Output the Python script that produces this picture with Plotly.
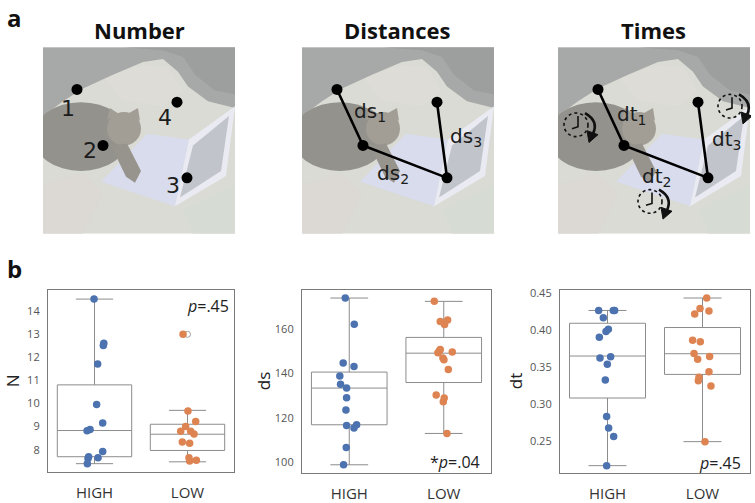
import plotly.graph_objects as go

W, H = 755, 503

# ---------------- data ----------------
# fixation sequence on the example image (image pixel coordinates)
fix_x = [34, 60, 144, 134]
fix_y = [43, 100, 133, 56]
fix_labels = ["1", "2", "3", "4"]
ds_labels = ["ds<sub>1</sub>", "ds<sub>2</sub>", "ds<sub>3</sub>"]
dt_labels = ["dt<sub>1</sub>", "dt<sub>2</sub>", "dt<sub>3</sub>"]
panel_titles = ["Number", "Distances", "Times"]

groups = ["HIGH", "LOW"]

# N (number of fixations)
n_high = [14.5, 12.6, 12.5, 11.7, 9.95, 9.15, 8.87, 8.82, 7.93, 7.7, 7.66, 7.62, 7.4]
n_high_jit = [-0.005, 0.10, 0.095, 0.034, 0.023, 0.088, -0.048, -0.08, 0.088, -0.063, 0.038, -0.07, -0.077]
n_low = [12.98, 9.67, 9.22, 9.0, 8.8, 8.8, 8.68, 8.34, 8.28, 7.66, 7.55, 7.52]
n_low_jit = [-0.048, 0.005, 0.088, -0.02, -0.073, 0.034, 0.07, -0.056, 0.023, 0.016, 0.095, 0.023]
n_q1 = [7.70, 7.97]
n_med = [8.83, 8.67]
n_q3 = [10.8, 9.1]
n_lo = [7.4, 7.48]
n_hi = [14.5, 9.7]
n_fliers_low = [12.98]

# ds (saccade distances)
ds_high = [174.0, 162.2, 144.8, 143.2, 138.9, 135.2, 133.5, 129.2, 123.6, 116.7, 117.0, 115.5, 106.8, 99.0]
ds_high_jit = [-0.042, 0.053, -0.064, 0.05, -0.10, -0.092, -0.028, -0.028, -0.035, -0.028, 0.078, 0.05, -0.032, -0.06]
ds_low = [172.5, 163.4, 164.1, 162.1, 150.9, 150.3, 149.4, 149.7, 147.0, 146.3, 141.9, 130.4, 129.0, 127.4, 113.1]
ds_low_jit = [-0.10, -0.037, 0.041, 0.009, -0.037, -0.045, -0.062, 0.09, -0.009, 0.002, 0.048, -0.08, 0.005, -0.005, 0.034]
ds_q1 = [117.0, 136.0]
ds_med = [133.5, 149.2]
ds_q3 = [140.7, 156.3]
ds_lo = [99.0, 113.1]
ds_hi = [174.0, 172.5]

# dt (fixation durations)
dt_high = [0.4264, 0.4264, 0.4264, 0.4167, 0.4011, 0.398, 0.39, 0.362, 0.3636, 0.3536, 0.3322, 0.2829, 0.2673, 0.2558, 0.2162]
dt_high_jit = [-0.093, 0.061, 0.075, -0.044, 0.009, -0.016, -0.086, -0.079, 0.033, -0.002, -0.023, -0.009, 0.012, 0.065, -0.009]
dt_low = [0.4433, 0.4291, 0.4256, 0.4216, 0.386, 0.3842, 0.3682, 0.3602, 0.3642, 0.3433, 0.3358, 0.3313, 0.3242, 0.2487]
dt_low_jit = [0.044, -0.026, 0.068, -0.082, -0.104, -0.023, -0.089, -0.051, 0.075, 0.068, -0.037, -0.044, 0.089, 0.026]
dt_q1 = [0.3078, 0.3398]
dt_med = [0.3647, 0.3678]
dt_q3 = [0.4091, 0.4033]
dt_lo = [0.2162, 0.2487]
dt_hi = [0.4264, 0.4433]

p_texts = ["<i>p</i>=.45", "*<i>p</i>=.04", "<i>p</i>=.45"]

# ---------------- helpers ----------------
def dx_(a, b):
    return [a / W, b / W]

def dy_(a, b):
    return [1 - b / H, 1 - a / H]

BLUE = "#4c72b0"
ORANGE = "#dd8452"
BOXC = "#8c8c8c"
FRAME = "#7a7a7a"
FONT = "Open Sans"

fig = go.Figure()
layout = dict(
    width=W, height=H, margin=dict(l=0, r=0, t=0, b=0),
    paper_bgcolor="white", plot_bgcolor="rgba(0,0,0,0)",
    showlegend=False, font=dict(family=FONT, color="#222"),
)

# ---------------- box plot panels ----------------
box_panels = [
    dict(ax="", dom=(48, 234), ydom=(290, 476), rng=[7.02, 14.9], ticks=[8, 9, 10, 11, 12, 13, 14], fmt="d",
         high=n_high, hj=n_high_jit, low=n_low, lj=n_low_jit, q1=n_q1, med=n_med, q3=n_q3, lo=n_lo, hi=n_hi,
         title="N", tx=12),
    dict(ax="2", dom=(302, 491), ydom=(290, 477), rng=[95.1, 177.7], ticks=[100, 120, 140, 160], fmt="d",
         high=ds_high, hj=ds_high_jit, low=ds_low, lj=ds_low_jit, q1=ds_q1, med=ds_med, q3=ds_q3, lo=ds_lo, hi=ds_hi,
         title="ds", tx=263),
    dict(ax="3", dom=(560, 750), ydom=(290, 477), rng=[0.2056, 0.4544], ticks=[0.25, 0.30, 0.35, 0.40, 0.45], fmt=".2f",
         high=dt_high, hj=dt_high_jit, low=dt_low, lj=dt_low_jit, q1=dt_q1, med=dt_med, q3=dt_q3, lo=dt_lo, hi=dt_hi,
         title="dt", tx=515),
]

annotations = []
shapes = []

for i, p in enumerate(box_panels):
    xa, ya = "x" + p["ax"], "y" + p["ax"]
    fig.add_trace(go.Box(
        x=[0, 1], q1=p["q1"], median=p["med"], q3=p["q3"], lowerfence=p["lo"], upperfence=p["hi"],
        orientation="v", width=0.8, whiskerwidth=0.5, fillcolor="white",
        line=dict(color=BOXC, width=1), boxpoints=False, xaxis=xa, yaxis=ya, hoverinfo="skip",
    ))
    if i == 0:
        fig.add_trace(go.Scatter(
            x=[1] * len(n_fliers_low), y=n_fliers_low, mode="markers",
            marker=dict(size=6, color="white", line=dict(color=BOXC, width=0.8)),
            xaxis=xa, yaxis=ya))
    fig.add_trace(go.Scatter(
        x=[0 + j for j in p["hj"]], y=p["high"], mode="markers",
        marker=dict(size=7.5, color=BLUE), xaxis=xa, yaxis=ya))
    fig.add_trace(go.Scatter(
        x=[1 + j for j in p["lj"]], y=p["low"], mode="markers",
        marker=dict(size=7.5, color=ORANGE), xaxis=xa, yaxis=ya))

    layout["xaxis" + p["ax"]] = dict(
        domain=dx_(*p["dom"]), anchor=ya, range=[-0.5, 1.5],
        tickvals=[0, 1], ticktext=groups, showgrid=False, zeroline=False,
        showline=True, mirror=True, linecolor=FRAME, linewidth=1.2,
        ticks="", tickfont=dict(size=15, color="#333", family=FONT), ticklabelstandoff=6,
        fixedrange=True,
    )
    layout["yaxis" + p["ax"]] = dict(
        domain=dy_(*p["ydom"]), anchor=xa, range=p["rng"],
        tickvals=p["ticks"], tickformat=p["fmt"], showgrid=False, zeroline=False,
        showline=True, mirror=True, linecolor=FRAME, linewidth=1.2,
        ticks="", tickfont=dict(size=11, color="#555", family=FONT), ticklabelstandoff=5,
        fixedrange=True,
    )
    # y-axis title
    annotations.append(dict(
        text=p["title"], x=p["tx"] / W, y=1 - 383 / H, xref="paper", yref="paper",
        textangle=-90, showarrow=False, font=dict(size=17, color="#222", family=FONT),
        xanchor="center", yanchor="middle"))

# p-value texts
annotations.append(dict(text=p_texts[0], xref="x domain", yref="y domain", x=0.985, y=0.91,
                        xanchor="right", yanchor="middle", showarrow=False, font=dict(size=16, color="#222")))
annotations.append(dict(text=p_texts[1], xref="x2 domain", yref="y2 domain", x=0.955, y=0.065,
                        xanchor="right", yanchor="middle", showarrow=False, font=dict(size=16, color="#222")))
annotations.append(dict(text=p_texts[2], xref="x3 domain", yref="y3 domain", x=0.965, y=0.055,
                        xanchor="right", yanchor="middle", showarrow=False, font=dict(size=16, color="#222")))

# ---------------- illustration panels ----------------
img_panels = [
    dict(ax="4", dom=(43, 235), xr=[0, 192], cx=139),
    dict(ax="5", dom=(302, 494), xr=[-1, 191], cx=397),
    dict(ax="6", dom=(558, 751), xr=[-6, 187], cx=653),
]

def poly(pts, dx):
    return "M" + " L".join(f"{x + dx},{y}" for x, y in pts) + " Z"

def add_photo(xr, yr, dx):
    def S(path, color):
        shapes.append(dict(type="path", path=path, xref=xr, yref=yr, fillcolor=color,
                           line=dict(width=0), layer="below"))
    shapes.append(dict(type="rect", xref=xr, yref=yr, x0=dx, x1=192 + dx, y0=0, y1=190,
                       fillcolor="#d9dbd4", line=dict(width=0), layer="below"))
    # tinted blotches of the blanket
    S(poly([(0, 140), (40, 128), (60, 150), (40, 190), (0, 190)], dx), "#dcd8d4")
    S(poly([(140, 165), (192, 140), (192, 190), (150, 190)], dx), "#d6dcd4")
    S(poly([(60, 30), (100, 18), (125, 20), (140, 45), (120, 60), (80, 55)], dx), "#dedcd6")
    # wall / background
    S(poly([(0, 0), (192, 0), (192, 62), (165, 55), (145, 40), (135, 25), (120, 12), (100, 15),
            (70, 28), (40, 42), (20, 55), (0, 70)], dx), "#a6a9a7")
    S(poly([(80, 0), (192, 0), (192, 48), (172, 44), (152, 28), (140, 10), (120, 3)], dx), "#9c9f9d")
    # laptop base
    S(poly([(58, 137), (104, 88), (146, 94), (132, 162)], dx), "#d9dcec")
    # laptop screen
    S(poly([(146, 94), (192, 60), (183, 131), (132, 162)], dx), "#eaebf2")
    S(poly([(150, 100), (186, 70), (178, 126), (137, 153)], dx), "#c2c4cb")
    # cat
    shapes.append(dict(type="circle", xref=xr, yref=yr, x0=-10 + dx, x1=86 + dx, y0=56, y1=126,
                       fillcolor="#94928d", line=dict(width=0), layer="below"))
    shapes.append(dict(type="circle", xref=xr, yref=yr, x0=64 + dx, x1=98 + dx, y0=66, y1=100,
                       fillcolor="#a29e96", line=dict(width=0), layer="below"))
    S(poly([(64, 74), (67, 62), (76, 68)], dx), "#a29e96")
    S(poly([(86, 67), (95, 62), (97, 75)], dx), "#a29e96")
    S(poly([(68, 100), (84, 98), (98, 126), (92, 138), (83, 132)], dx), "#97948e")


def add_clock(xr, yr, cx, cy):
    r = 12
    shapes.append(dict(type="circle", xref=xr, yref=yr, x0=cx - r, x1=cx + r, y0=cy - r, y1=cy + r,
                       line=dict(color="#111", width=1.6, dash="dot"), layer="above"))
    shapes.append(dict(type="path", xref=xr, yref=yr,
                       path=f"M{cx + 2},{cy - 9} L{cx + 2},{cy + 2} L{cx - 4},{cy + 4}",
                       line=dict(color="#111", width=1.6), layer="above"))
    shapes.append(dict(type="path", xref=xr, yref=yr,
                       path=f"M{cx + 9},{cy - 12} Q{cx + 23},{cy - 4} {cx + 17},{cy + 9}",
                       line=dict(color="#111", width=2.6), layer="above"))
    # arrow head
    shapes.append(dict(type="path", xref=xr, yref=yr,
                       path=f"M{cx + 11},{cy + 6} L{cx + 22},{cy + 10} L{cx + 13},{cy + 18} Z",
                       fillcolor="#111", line=dict(color="#111", width=1), layer="above"))


for k, p in enumerate(img_panels):
    xa, ya = "x" + p["ax"], "y" + p["ax"]
    layout["xaxis" + p["ax"]] = dict(domain=dx_(*p["dom"]), anchor=ya, range=p["xr"], visible=False, fixedrange=True)
    layout["yaxis" + p["ax"]] = dict(domain=dy_(43, 233), anchor=xa, range=[190, 0], visible=False, fixedrange=True)
    add_photo(xa, ya, p["xr"][0])
    annotations.append(dict(text=f"<b>{panel_titles[k]}</b>", x=p["cx"] / W, y=1 - 25 / H, xref="paper", yref="paper",
                            showarrow=False, xanchor="center", yanchor="middle",
                            font=dict(size=22, color="#111", family=FONT)))
    mode = "markers" if k == 0 else "lines+markers"
    fig.add_trace(go.Scatter(x=fix_x, y=fix_y, mode=mode, xaxis=xa, yaxis=ya,
                             line=dict(color="black", width=2.6),
                             marker=dict(size=11, color="black")))

# fixation number labels
num_off = [(-9, 19), (-13, 5), (-14, 8), (-12, 16)]
for lab, x, y, (ox, oy) in zip(fix_labels, fix_x, fix_y, num_off):
    annotations.append(dict(text=lab, x=x + ox, y=y + oy, xref="x4", yref="y4", showarrow=False,
                            font=dict(size=22, color="#1c1c1c", family="DejaVu Sans")))

# segment labels
seg_pos_ds = [(67, 66), (90, 129), (163, 91)]
seg_pos_dt = [(67, 69), (92, 132), (162, 94)]
for lab, (x, y) in zip(ds_labels, seg_pos_ds):
    annotations.append(dict(text=lab, x=x, y=y, xref="x5", yref="y5", showarrow=False,
                            font=dict(size=20, color="#1c1c1c", family="DejaVu Sans")))
for lab, (x, y) in zip(dt_labels, seg_pos_dt):
    annotations.append(dict(text=lab, x=x, y=y, xref="x6", yref="y6", showarrow=False,
                            font=dict(size=20, color="#1c1c1c", family="DejaVu Sans")))

# clocks on the Times panel
for (cx, cy) in [(12, 79), (86, 157), (166, 60)]:
    add_clock("x6", "y6", cx, cy)

# panel letters
annotations.append(dict(text="<b>a</b>", x=5 / W, y=1 - 13 / H, xref="paper", yref="paper", showarrow=False,
                        xanchor="left", yanchor="middle", font=dict(size=24, color="#111", family=FONT)))
annotations.append(dict(text="<b>b</b>", x=5 / W, y=1 - 268 / H, xref="paper", yref="paper", showarrow=False,
                        xanchor="left", yanchor="middle", font=dict(size=24, color="#111", family=FONT)))

layout["annotations"] = annotations
layout["shapes"] = shapes
fig.update_layout(**layout)
fig.write_html("out.html", config={"displayModeBar": False},
               post_script="document.body.style.margin='0';document.body.style.overflow='hidden';")
